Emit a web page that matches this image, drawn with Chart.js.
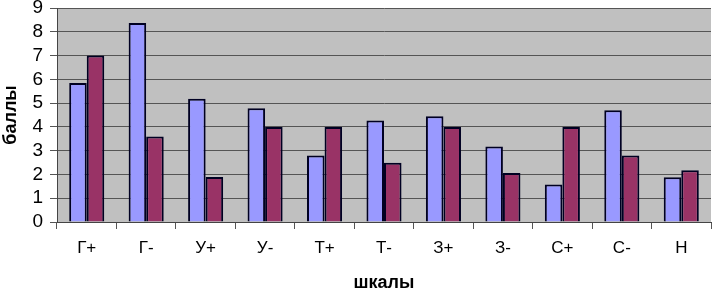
<!DOCTYPE html>
<html>
<head>
<meta charset="utf-8">
<script src="https://cdn.jsdelivr.net/npm/chart.js@4/dist/chart.umd.min.js"></script>
<style>
  html, body { margin: 0; padding: 0; background: #fff; }
  #wrap { width: 712px; height: 290px; }
</style>
</head>
<body>
<div id="wrap"><canvas id="c" width="712" height="290"></canvas></div>
<script>
// ---- data ----
var SCALES  = ["Г+", "Г-", "У+", "У-", "Т+", "Т-", "З+", "З-", "С+", "С-", "Н"];
var SERIES1 = [5.85, 8.37, 5.18, 4.78, 2.8, 4.27, 4.45, 3.18, 1.58, 4.7, 1.88];
var SERIES2 = [7.0, 3.6, 1.89, 4.0, 4.0, 2.49, 4.0, 2.06, 4.0, 2.8, 2.18];
var Y_TICKS = [0, 1, 2, 3, 4, 5, 6, 7, 8, 9];

// grey plot-area fill, like the old Excel default
var plotBg = {
  id: "plotBg",
  beforeDraw: function(chart) {
    var a = chart.chartArea, ctx = chart.ctx;
    ctx.save();
    ctx.fillStyle = "#C0C0C0";
    ctx.fillRect(a.left, a.top, a.right - a.left, a.bottom - a.top);
    ctx.restore();
  },
};

new Chart(document.getElementById("c"), {
  type: "bar",
  data: {
    labels: SCALES,
    datasets: [{
      data:            SERIES1,
      backgroundColor: "#9999FF",
      borderColor:     "#000022",
      borderWidth:     2,
    }, {
      data:            SERIES2,
      backgroundColor: "#993366",
      borderColor:     "#000022",
      borderWidth:     2,
    }],
  },
  options: {
    responsive:          false,
    animation:           false,
    devicePixelRatio:    1,
    layout: { padding: { top: 8, right: 1, left: 0, bottom: 0 } },
    datasets: { bar: { categoryPercentage: 0.59, barPercentage: 1 } },
    plugins: {
      legend:  { display: false },
      tooltip: { enabled: false },
    },
    scales: {
      x: {
        offset: true,
        grid: { display: true, drawOnChartArea: false, drawTicks: true, tickLength: 7, color: "#555", offset: true },
        border: { color: "#444", width: 1 },
        ticks: { color: "#000", font: { family: "Arial, 'Liberation Sans'", size: 17 }, padding: 9 },
        title: { display: true, text: "шкалы", color: "#000", font: { family: "Arial, 'Liberation Sans'", size: 18, weight: "bold", lineHeight: 0.8 }, padding: { top: 14, bottom: 0 } },
        afterFit: function(s) { s.height = 68; s.paddingLeft = 0; s.paddingRight = 0; },
      },
      y: {
        min: 0, max: 9,
        afterBuildTicks: function(s) { s.ticks = Y_TICKS.map(function(v) { return { value: v }; }); },
        grid: { color: "#555", lineWidth: 1, tickLength: 7 },
        border: { color: "#444", width: 1 },
        ticks: { color: "#000", autoSkip: false, font: { family: "Arial, 'Liberation Sans'", size: 19 }, padding: 7 },
        title: { display: true, text: "баллы", color: "#000", font: { family: "Arial, 'Liberation Sans'", size: 18, weight: "bold" }, padding: { top: 0, bottom: 2 } },
        afterFit: function(s) { s.width = 57; s.paddingTop = 0; s.paddingBottom = 0; },
      },
    },
  },
  plugins: [plotBg],
});
</script>
</body>
</html>
